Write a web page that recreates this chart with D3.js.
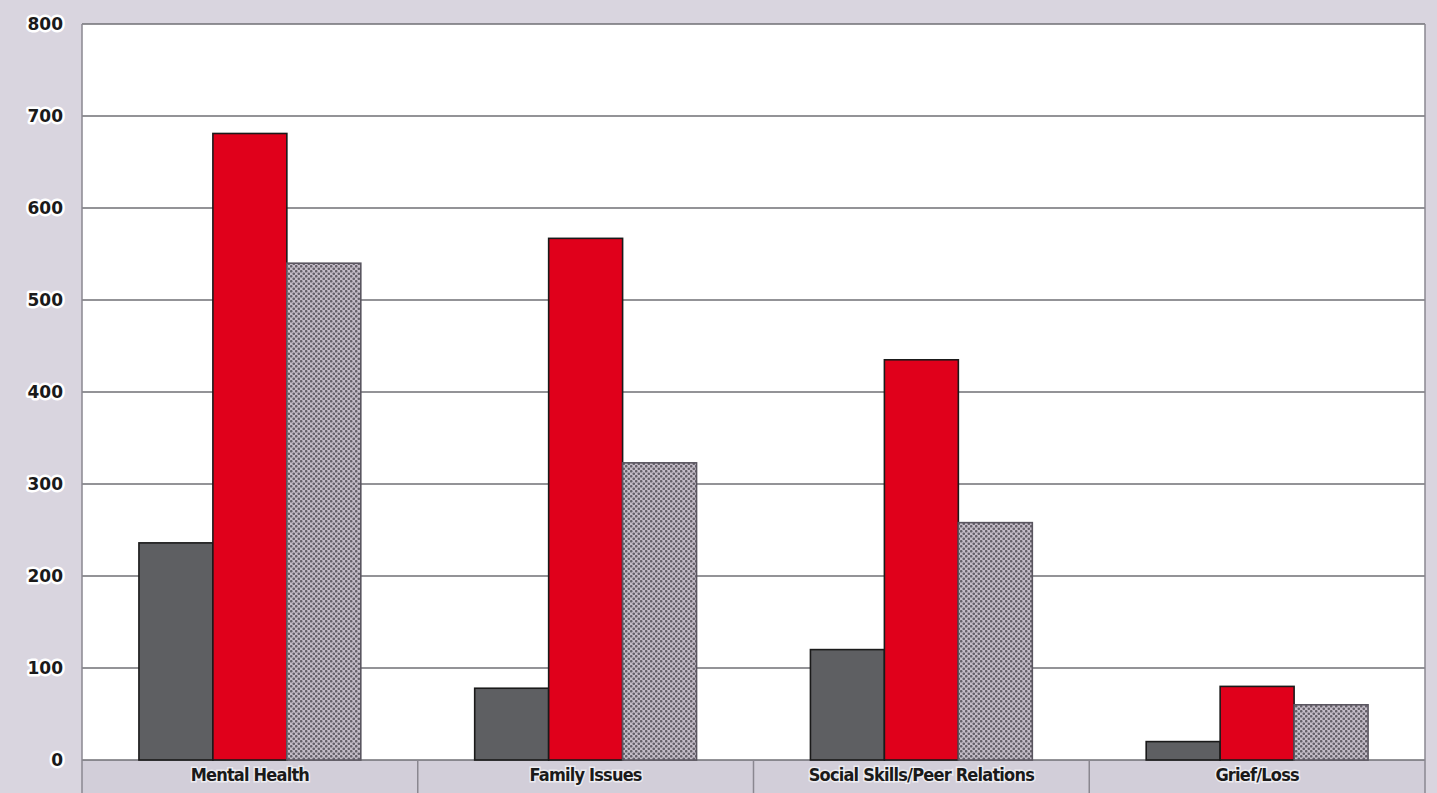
<!DOCTYPE html>
<html><head><meta charset="utf-8">
<script src="https://cdn.jsdelivr.net/npm/d3@7"></script>
<style>
html,body{margin:0;padding:0;background:#d9d5df;}
svg{display:block;}
</style></head><body>
<svg id="c" width="1437" height="793"></svg>
<script>
const categories = ["Mental Health", "Family Issues", "Social Skills/Peer Relations", "Grief/Loss"];
const seriesNames = ["Series A", "Series B", "Series C"];
const seriesA = [236, 78, 120, 20];
const seriesB = [681, 567, 435, 80];
const seriesC = [540, 323, 258, 60];
const yTicks = [0, 100, 200, 300, 400, 500, 600, 700, 800];

const svg = d3.select("#c");
const W = 1437, H = 793;
const m = {l: 82, r: 12, t: 24, b: 33};
const x0 = m.l, x1 = W - m.r, yTop = m.t, yBot = H - m.b;

svg.append("rect").attr("width", W).attr("height", H).attr("fill", "#d9d5df");

const defs = svg.append("defs");
const pat = defs.append("pattern").attr("id", "dots").attr("patternUnits", "userSpaceOnUse")
  .attr("width", 5).attr("height", 5);
pat.append("rect").attr("width", 5).attr("height", 5).attr("fill", "#c4bdc8");
pat.append("circle").attr("cx", 1.25).attr("cy", 1.25).attr("r", 1.3).attr("fill", "#635f68");
pat.append("circle").attr("cx", 3.75).attr("cy", 3.75).attr("r", 1.3).attr("fill", "#635f68");

const y = d3.scaleLinear().domain([0, 800]).range([yBot, yTop]);
const xCat = d3.scaleBand().domain(categories).range([x0, x1]).padding(0);
const xSer = d3.scaleBand().domain(seriesNames).range([0, xCat.bandwidth()]).paddingInner(0).paddingOuter(0.77);

svg.append("rect").attr("x", x0).attr("y", yTop).attr("width", x1 - x0).attr("height", yBot - yTop).attr("fill", "#ffffff");
svg.append("rect").attr("x", x0).attr("y", yBot).attr("width", x1 - x0).attr("height", H - yBot).attr("fill", "#d2ced9");

svg.append("g").selectAll("line").data(yTicks).join("line")
  .attr("x1", x0).attr("x2", x1)
  .attr("y1", d => y(d)).attr("y2", d => y(d))
  .attr("stroke", "#6f6f74").attr("stroke-width", 1.6);

const seps = categories.map(c => xCat(c)).concat([x1]);
svg.append("g").selectAll("line").data(seps).join("line")
  .attr("x1", d => d).attr("x2", d => d)
  .attr("y1", (d, i) => (i === 0 || i === seps.length - 1) ? yTop : yBot).attr("y2", H)
  .attr("stroke", "#8a8790").attr("stroke-width", 1.5);

const series = [
  {name: seriesNames[0], values: seriesA, fill: "#5e5f62"},
  {name: seriesNames[1], values: seriesB, fill: "#e0001b"},
  {name: seriesNames[2], values: seriesC, fill: "url(#dots)"}
];
const gBars = svg.append("g");
series.forEach(s => {
  gBars.selectAll(null).data(categories).join("rect")
    .attr("x", c => xCat(c) + xSer(s.name))
    .attr("width", xSer.bandwidth())
    .attr("y", (c, i) => y(s.values[i]))
    .attr("height", (c, i) => yBot - y(s.values[i]))
    .attr("fill", s.fill)
    .attr("stroke", s.name === seriesNames[2] ? "#5a5660" : "#1a1a1a")
    .attr("stroke-width", 1.6);
});

const yAxis = d3.axisLeft(y).tickValues(yTicks).tickSize(0).tickPadding(0);
const gy = svg.append("g").attr("transform", `translate(${x0 - 19},0)`).call(yAxis);
gy.select(".domain").remove();
gy.selectAll("text")
  .attr("font-family", "DejaVu Sans, Verdana, sans-serif")
  .attr("font-weight", "bold").attr("font-size", 17).attr("fill", "#1a1a1a")
  .attr("stroke", "#ffffff").attr("stroke-width", 5).attr("paint-order", "stroke")
  .attr("stroke-linejoin", "round");

const xAxis = d3.axisBottom(xCat).tickSize(0).tickPadding(0);
const gx = svg.append("g").attr("transform", `translate(0,${yBot + 8})`).call(xAxis);
gx.select(".domain").remove();
gx.selectAll("text")
  .attr("font-family", "DejaVu Sans Condensed, DejaVu Sans, sans-serif")
  .attr("font-weight", "bold").attr("font-size", 18).attr("fill", "#1a1a1a")
  .attr("letter-spacing", -0.8)
  .attr("stroke", "#ffffff").attr("stroke-width", 3).attr("paint-order", "stroke")
  .attr("stroke-opacity", 0.6);
</script>
</body></html>
